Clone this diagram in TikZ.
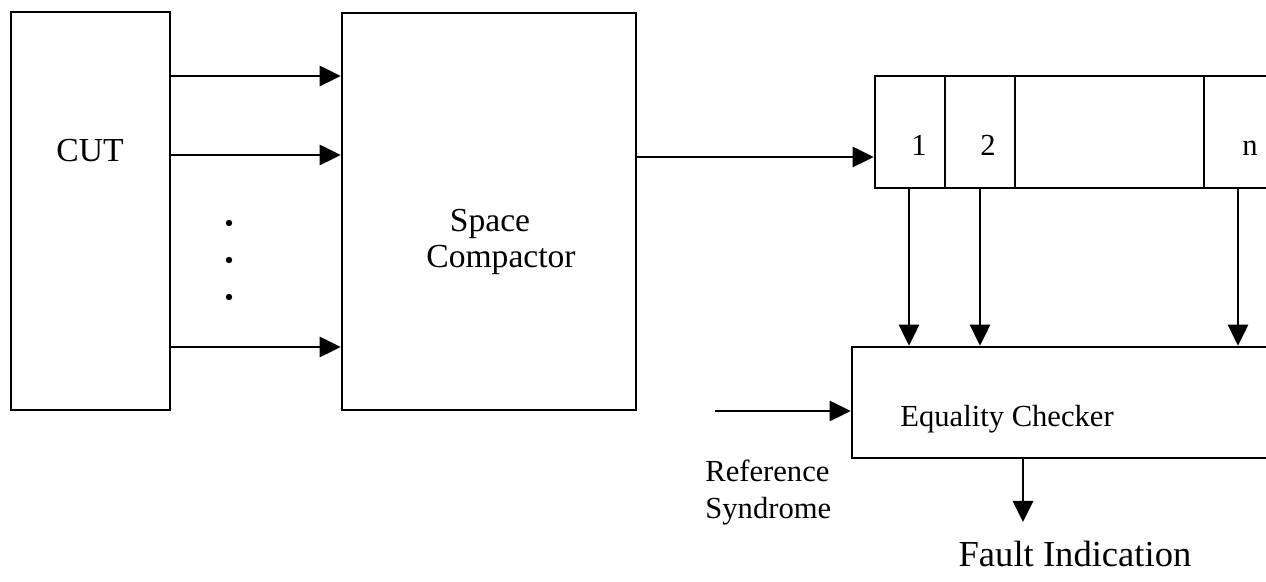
\documentclass[tikz,border=0pt]{standalone}
\usepackage{fontspec}
\setmainfont{Liberation Serif}
\usetikzlibrary{arrows.meta}
\begin{document}
\begin{tikzpicture}[x=0.5pt,y=-0.5pt,
  blk/.style={draw,line width=1.3pt,rectangle,inner sep=0pt},
  lbl/.style={anchor=base,inner sep=0pt,font=\fontsize{15.3}{18}\selectfont},
  biglbl/.style={lbl,font=\fontsize{16.8}{20}\selectfont},
  arr/.style={line width=1.4pt,-{Triangle[length=10.5pt,width=10pt]}}]
\useasboundingbox (0,0) rectangle (1266,582);
\clip (0,0) rectangle (1266,582);

% main blocks
\node[blk,minimum width=79.5pt,minimum height=199pt] (cut) at (90.5,211) {};
\node[blk,minimum width=147pt,minimum height=198.5pt] (sc) at (489,211.5) {};

% register cells
\node[blk,minimum width=35pt,minimum height=56pt] (r1) at (910,132) {};
\node[blk,minimum width=35pt,minimum height=56pt] (r2) at (980,132) {};
\node[blk,minimum width=94.5pt,minimum height=56pt] (r3) at (1109.5,132) {};
\node[blk,minimum width=48pt,minimum height=56pt] (rn) at (1252,132) {};

% equality checker
\node[blk,minimum width=224pt,minimum height=55.5pt] (ec) at (1076,402.5) {};

% labels
\node[biglbl] (tcut) at (90,162) {CUT};
\node[biglbl] (tsp) at (490,232) {Space};
\node[biglbl] (tcomp) at (501,268) {Compactor};
\node[lbl] (t1) at (919,156) {1};
\node[lbl] (t2) at (988,156) {2};
\node[lbl] (tn) at (1250,156) {n};
\node[lbl,anchor=base west] (tec) at (900,427) {Equality Checker};
\node[lbl,anchor=base west] (tref) at (705,482) {Reference};
\node[lbl,anchor=base west] (tsyn) at (705,519) {Syndrome};
\node[lbl,font=\fontsize{18.3}{22}\selectfont] (tfault) at (1075,567) {Fault Indication};

% helper coordinates
\coordinate (ya) at (0,76);
\coordinate (yb) at (0,155);
\coordinate (yc) at (0,347);
\coordinate (yd) at (0,157);
\coordinate (x1) at (909,0);
\coordinate (x2) at (980,0);
\coordinate (xn) at (1238,0);
\coordinate (refin) at (715,411);
\coordinate (fout) at (1023,522);

% CUT outputs into the compactor
\draw[arr] (cut.east |- ya) -- (sc.west |- ya);
\draw[arr] (cut.east |- yb) -- (sc.west |- yb);
\draw[arr] (cut.east |- yc) -- (sc.west |- yc);
\foreach \yy in {223,260,297} \fill (229,\yy) circle[radius=3.2];

% compactor into the register
\draw[arr] (sc.east |- yd) -- (r1.west |- yd);

% register cells into the checker
\draw[arr] (r1.south -| x1) -- (ec.north -| x1);
\draw[arr] (r2.south -| x2) -- (ec.north -| x2);
\draw[arr] (rn.south -| xn) -- (ec.north -| xn);

% reference input and fault output
\draw[arr] (refin) -- (ec.west |- refin);
\draw[arr] (ec.south -| fout) -- (fout);
\end{tikzpicture}
\end{document}
